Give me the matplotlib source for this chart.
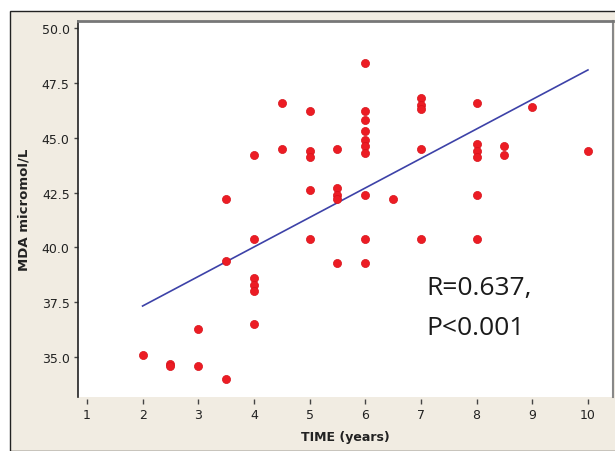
import numpy as np
import matplotlib
matplotlib.use("Agg")
import matplotlib.pyplot as plt
from matplotlib.patches import Rectangle

# MDA levels against time
time_years = [2, 2.5, 2.5, 3, 3, 3.5, 3.5, 3.5,
              4, 4, 4, 4, 4, 4, 4.5, 4.5,
              5, 5, 5, 5, 5, 5.5, 5.5, 5.5, 5.5, 5.5,
              6, 6, 6, 6, 6, 6, 6, 6, 6, 6, 6.5,
              7, 7, 7, 7, 7, 8, 8, 8, 8, 8, 8,
              8.5, 8.5, 9, 10]
mda = [35.1, 34.7, 34.6, 36.3, 34.6, 42.2, 39.4, 34.0,
       44.2, 40.4, 38.6, 38.3, 38.0, 36.5, 46.6, 44.5,
       46.2, 44.4, 44.1, 42.6, 40.4, 44.5, 42.7, 42.4, 42.2, 39.3,
       48.4, 46.2, 45.8, 45.3, 44.9, 44.6, 44.3, 42.4, 40.4, 39.3, 42.2,
       46.8, 46.5, 46.3, 44.5, 40.4, 46.6, 44.7, 44.4, 44.1, 42.4, 40.4,
       44.6, 44.2, 46.4, 44.4]
x_ticks = [1, 2, 3, 4, 5, 6, 7, 8, 9, 10]
y_ticks = [35.0, 37.5, 40.0, 42.5, 45.0, 47.5, 50.0]
stats_lines = ["R=0.637,", "P<0.001"]

fig = plt.figure(figsize=(6.15, 4.52), dpi=100)
fig.patch.set_facecolor("white")
# beige Minitab-style panel behind the plot
fig.patches.append(Rectangle((10 / 615, 0), 1, 1 - 12 / 452, transform=fig.transFigure,
                             facecolor="#f1ece2", edgecolor="#222222", linewidth=1.0,
                             zorder=0))

ax = fig.add_axes([78 / 615, 54 / 452, 535 / 615, 376 / 452])
ax.set_zorder(2)
ax.set_facecolor("white")

x = np.array(time_years)
y = np.array(mda)
slope, intercept = np.polyfit(x, y, 1)
xs = np.array([x.min(), x.max()])
ax.plot(xs, intercept + slope * xs, color="#3d42a8", linewidth=1.2, zorder=2)
ax.scatter(x, y, s=34, color="#ec1c24", edgecolors="#d8121a", linewidths=0.5, zorder=3)

ax.set_xlim(0.84, 10.45)
ax.set_ylim(33.18, 50.32)
ax.set_xticks(x_ticks)
ax.set_yticks(y_ticks)
ax.set_yticklabels(["%.1f" % v for v in y_ticks])

ax.spines["bottom"].set_visible(False)
ax.spines["bottom"].set_position(("outward", 1.5))
ax.spines["left"].set_color("#222222")
ax.spines["left"].set_linewidth(1.2)
ax.spines["top"].set_color("#777777")
ax.spines["top"].set_linewidth(2)
ax.spines["right"].set_color("#888888")
ax.spines["right"].set_linewidth(1.5)

ax.tick_params(axis="x", length=3.6, width=1, color="#444444", pad=3,
               labelsize=9, labelcolor="#222222")
ax.tick_params(axis="y", length=3, width=1, color="#444444", pad=3,
               labelsize=9, labelcolor="#222222")

ax.set_xlabel("TIME (years)", fontsize=9, fontweight="bold", color="#222222", labelpad=6)
ax.set_ylabel("MDA micromol/L", fontsize=9.5, fontweight="bold", color="#222222",
              labelpad=8)

# correlation note, one text per line so the spacing matches
for i, line in enumerate(stats_lines):
    ax.text(0.652, 0.274 - 0.106 * i, line, transform=ax.transAxes, fontsize=19,
            family="Open Sans", color="#1a1a1a", va="baseline", ha="left")

plt.savefig("out.png", dpi=100)
plt.close()
